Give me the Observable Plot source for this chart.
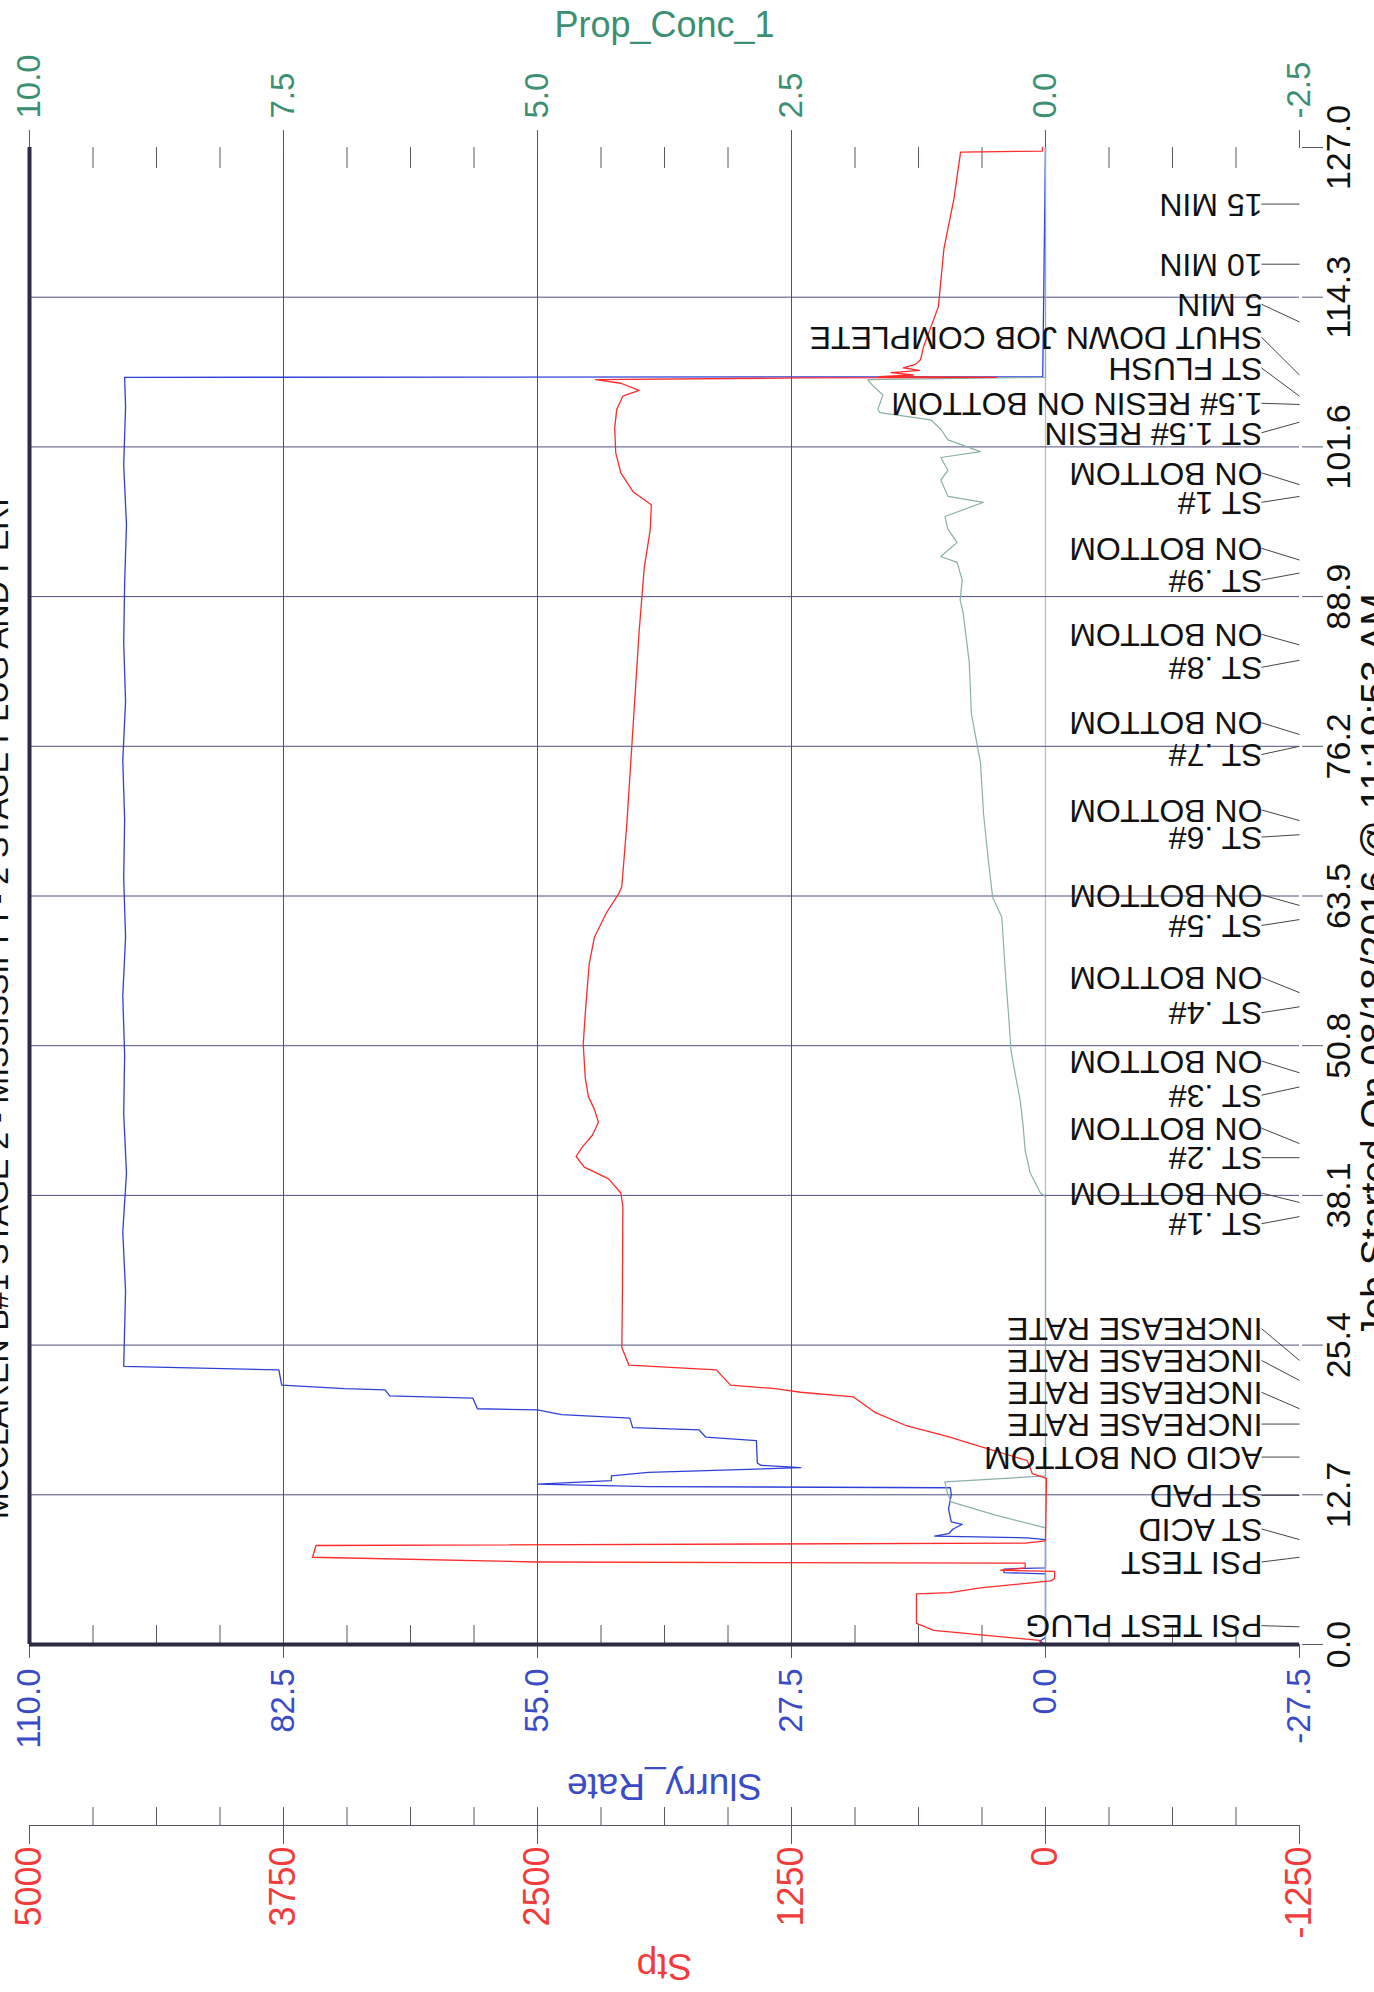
<!DOCTYPE html>
<html><head><meta charset="utf-8">
<script src="https://cdn.jsdelivr.net/npm/d3@7"></script>
<script src="https://cdn.jsdelivr.net/npm/@observablehq/plot@0.6"></script>
<style>
html,body{margin:0;padding:0;background:#fff;overflow:hidden}
#chart svg{display:block}
</style></head><body><div id="chart"></div>
<script>
// ---------- tick labels ----------
const timeTicks = [0.0, 12.7, 25.4, 38.1, 50.8, 63.5, 76.2, 88.9, 101.6, 114.3, 127.0];
const rateTicks = [110.0, 82.5, 55.0, 27.5, 0.0, -27.5];
const stpTicks  = [5000, 3750, 2500, 1250, 0, -1250];
const propTicks = [10.0, 7.5, 5.0, 2.5, 0.0, -2.5];

// ---------- Stp (psi) ----------
const stpTime  = [0.0,0.35,1.2,1.8,4.3,4.4,4.8,5.4,5.6,6.2,6.3,6.5,6.9,7.0,7.4,8.4,8.6,8.8,14.1,14.5,15.6,17.1,17.6,18.6,19.7,21.0,21.4,21.7,22.0,23.3,23.7,25.2,30.0,37.2,38.3,39.5,40.5,41.4,42.2,43.2,44.3,45.4,46.5,48.1,50.9,53.5,55.7,57.8,60.0,62.1,63.7,64.3,69.7,75.1,80.5,85.9,91.3,94.6,96.7,97.8,99.4,101.1,103.2,104.8,105.9,106.4,107.0,107.3,107.45,107.5,107.55,107.7,107.9,108.1,108.3,108.6,109.0,110.1,113.5,118.4,122.7,126.6,126.7,127.0];
const stpValue = [20,30,550,635,635,470,320,-25,-45,-45,220,100,100,2500,3607,3590,100,0,-5,65,90,380,470,690,840,945,1205,1330,1550,1620,2050,2085,2082,2080,2090,2150,2270,2310,2280,2230,2200,2220,2250,2265,2275,2265,2255,2245,2220,2160,2100,2085,2060,2040,2020,2000,1975,1945,1940,2030,2090,2115,2120,2110,2080,2000,2090,2214,1200,240,820,650,760,620,700,640,615,600,527,500,450,418,15,15];

// ---------- Slurry_Rate (bpm) ----------
const rateTime  = [0.0,0.3,0.6,6.0,6.1,6.4,6.5,8.9,9.05,9.2,9.4,9.8,10.2,10.4,11.5,12.7,13.3,13.4,13.6,13.9,14.3,14.6,15.0,15.2,15.4,17.3,17.6,18.2,18.4,19.2,19.5,19.9,20.0,20.9,21.1,21.6,21.7,22.0,23.3,23.6,30,35,40,45,50,55,60,65,70,75,80,85,90,95,100,105,107.5,107.55,127.0];
const rateValue = [0,0.6,0,0,4.5,4.5,0,0,2,12,10.5,10,9,10.2,10.5,10.2,10.3,43,55,47,47,43,26.5,30.8,31.2,31.3,36.8,37.5,44.7,45,52.4,55,61.5,62,71,71.5,75.9,82.7,83,99.8,99.6,99.9,99.5,99.8,99.7,99.9,99.6,99.8,99.7,99.9,99.6,99.8,99.7,99.5,99.8,99.6,99.7,0.3,0];

// ---------- Prop_Conc_1 (ppg) ----------
const propTime  = [0,9.9,11.0,12.1,13.0,13.8,14.3,38.0,38.3,40,41.9,44,46.2,48.5,50.4,53,56.4,59,61.7,63.4,66.3,70.5,74.8,79.0,83.3,87.5,88.6,90.3,91.8,92.3,93.5,94.6,95.7,96.9,97.4,98.8,99.6,100.7,101.2,102.2,103.1,103.9,104.5,104.8,106.0,106.8,107.3,107.5,127];
const propValue = [0,0,0.5,0.93,0.97,0.99,0,0,0.05,0.15,0.2,0.22,0.25,0.3,0.34,0.36,0.39,0.41,0.43,0.52,0.56,0.61,0.64,0.73,0.75,0.81,0.84,0.82,0.87,1.03,0.87,0.96,0.99,0.61,0.96,1.03,0.96,1.03,0.64,0.96,1.03,1.13,1.63,1.65,1.6,1.7,1.75,0,0];

// ---------- event annotations ----------
const eventLabels = ["PSI TEST PLUG","PSI TEST","ST ACID","ST PAD","ACID ON BOTTOM","INCREASE RATE","INCREASE RATE","INCREASE RATE","INCREASE RATE","ST .1#","ON BOTTOM","ST .2#","ON BOTTOM","ST .3#","ON BOTTOM","ST .4#","ON BOTTOM","ST .5#","ON BOTTOM","ST .6#","ON BOTTOM","ST .7#","ON BOTTOM","ST .8#","ON BOTTOM","ST .9#","ON BOTTOM","ST 1#","ON BOTTOM","ST 1.5# RESIN","1.5# RESIN ON BOTTOM","ST FLUSH","SHUT DOWN JOB COMPLETE","5 MIN","10 MIN","15 MIN"];
const eventTimes  = [1.5,7.4,8.9,12.65,15.9,18.7,20.0,22.4,24.1,36.3,37.5,41.3,42.5,47.3,48.5,54.1,55.3,61.5,62.7,68.7,69.9,76.2,77.2,83.5,84.8,90.9,92.0,97.4,98.4,103.7,105.2,105.9,107.7,112.2,117.1,122.2];
const labelTimes  = [1.6,7.0,9.8,12.65,15.9,18.7,21.4,24.1,26.8,35.7,38.3,41.3,43.8,46.6,49.5,53.6,56.6,61.0,63.6,68.5,70.8,75.5,78.2,82.9,85.7,90.3,93.0,96.9,99.4,102.8,105.3,108.3,110.9,113.7,117.1,122.2];

const titleText = "MCCLAREN B#1 STAGE 2 - MISSISSIPPI - 2 STAGE PLUG AND PERF";
const jobText = "Job Started On 08/18/2016 @ 11:19:53 AM";

// ---------- build ----------
const STP_TO_RATE = 137.5 / 6250;   // Stp axis spans the same length as Slurry_Rate axis
const PROP_TO_RATE = 11;            // Prop axis 12.5 units over 137.5
const stpData  = stpTime.map((t, i) => ({t, v: stpValue[i] * STP_TO_RATE}));
const rateData = rateTime.map((t, i) => ({t, v: rateValue[i]}));
const propData = propTime.map((t, i) => ({t, v: propValue[i] * PROP_TO_RATE}));
const events = eventLabels.map((label, i) => ({label, t: eventTimes[i], lt: labelTimes[i]}));

const W = 1374, H = 1992, mL = 29, mR = 75, mT = 147, mB = 348;
const pxPerRate = (W - mL - mR) / 137.5;
const leaderGap = 38; // px between frame edge and label
const leaderX = -27.5 + leaderGap / pxPerRate;

const font = "'Liberation Sans', Arial, Helvetica, sans-serif";
const C = {
  frame: "#2b2b45", grid: "#4f4f80", zero: "#a8c2c6", axis: "#555566",
  red: "#ff2a2a", blue: "#2f40d8", teal: "#8bb0a8",
  propLab: "#3b8f72", rateLab: "#3a4bc8", stpLab: "#f23b3b"
};
const stick = {draw(ctx, l) { ctx.moveTo(0, 0); ctx.lineTo(0, -l); }};

const majorRate = rateTicks;
const step = (rateTicks[0] - rateTicks[1]) / 4;
const minorRate = d3.range(0, 21).map(k => rateTicks[0] - k * step).filter((d, k) => k % 4 !== 0);
const innerRate = rateTicks.slice(1, -1);
const STP_OFF = 181;
const tTop = timeTicks[timeTicks.length - 1];
const xRight = rateTicks[rateTicks.length - 1];

const chart = Plot.plot({
  width: W, height: H,
  marginLeft: mL, marginRight: mR, marginTop: mT, marginBottom: mB,
  style: {fontFamily: font, background: "#fff", overflow: "visible"},
  x: {domain: [rateTicks[0], xRight], axis: null},
  y: {domain: [timeTicks[0], tTop], axis: null},
  marks: [
    // grid
    Plot.ruleX(innerRate.filter(d => d !== 0), {stroke: C.grid, strokeWidth: 1}),
    Plot.ruleX([0], {stroke: C.zero, strokeWidth: 1.2}),
    Plot.ruleY(timeTicks.slice(1, -1), {stroke: C.grid, strokeWidth: 1}),
    // time axis outward ticks (right)
    Plot.vector(timeTicks, {x: xRight, y: d => d, length: 20, rotate: 90, anchor: "start", dx: 3, shape: stick, stroke: C.axis, strokeWidth: 1}),
    // prop axis (top): major ticks up, minor ticks down
    Plot.vector(majorRate, {x: d => d, y: tTop, length: 17, rotate: 0, anchor: "start", shape: stick, stroke: C.axis, strokeWidth: 1}),
    Plot.vector(minorRate, {x: d => d, y: tTop, length: 20, rotate: 180, anchor: "start", shape: stick, stroke: C.axis, strokeWidth: 1}),
    // slurry axis (bottom): minor ticks inward, major outward
    Plot.vector(minorRate, {x: d => d, y: 0, length: 19, rotate: 0, anchor: "start", shape: stick, stroke: C.axis, strokeWidth: 1}),
    Plot.vector(majorRate, {x: d => d, y: 0, length: 13, rotate: 180, anchor: "start", shape: stick, stroke: C.axis, strokeWidth: 1}),
    // stp axis (offset below)
    Plot.ruleY([0], {dy: STP_OFF, stroke: C.axis, strokeWidth: 1.2}),
    Plot.vector(minorRate.concat(innerRate), {x: d => d, y: 0, dy: STP_OFF, length: 18, rotate: 0, anchor: "start", shape: stick, stroke: C.axis, strokeWidth: 1}),
    Plot.vector(majorRate, {x: d => d, y: 0, dy: STP_OFF, length: 18, rotate: 180, anchor: "start", shape: stick, stroke: C.axis, strokeWidth: 1}),
    // series
    Plot.line(rateData, {x: "v", y: "t", stroke: C.blue, strokeWidth: 1.3}),
    Plot.line(propData, {x: "v", y: "t", stroke: C.teal, strokeWidth: 1.2}),
    Plot.line(stpData, {x: "v", y: "t", stroke: C.red, strokeWidth: 1.3}),
    // thick frame
    Plot.ruleX([rateTicks[0]], {stroke: C.frame, strokeWidth: 4}),
    Plot.ruleY([0], {stroke: C.frame, strokeWidth: 4}),
    // event leaders & labels
    Plot.link(events, {x1: xRight, y1: "t", x2: leaderX, y2: "lt", stroke: "#444", strokeWidth: 1}),
    Plot.text(events, {x: leaderX, y: "lt", text: "label", rotate: 180, textAnchor: "start", lineAnchor: "middle", dx: 1, fontSize: 32, fill: "#111"}),
    // tick labels
    Plot.text(timeTicks, {x: xRight, y: d => d, text: d => d.toFixed(1), rotate: -90, textAnchor: "middle", lineAnchor: "top", dx: 26, fontSize: 34, fill: "#111"}),
    Plot.text(propTicks, {x: d => d * PROP_TO_RATE, y: tTop, text: d => d.toFixed(1), rotate: -90, textAnchor: "start", lineAnchor: "middle", dy: -29, fontSize: 33, fill: C.propLab}),
    Plot.text(rateTicks, {x: d => d, y: 0, text: d => d.toFixed(1), rotate: -90, textAnchor: "end", lineAnchor: "middle", dy: 24, fontSize: 33, fill: C.rateLab}),
    Plot.text(stpTicks, {x: d => d * STP_TO_RATE, y: 0, text: d => String(d), rotate: -90, textAnchor: "end", lineAnchor: "middle", dy: STP_OFF + 21, fontSize: 36, fill: C.stpLab}),
    // axis titles
    Plot.text(["Prop_Conc_1"], {frameAnchor: "top", dy: -122, text: d => d, textAnchor: "middle", lineAnchor: "middle", fontSize: 36, fill: C.propLab}),
    Plot.text(["Slurry_Rate"], {frameAnchor: "bottom", dy: 141, text: d => d, rotate: 180, textAnchor: "middle", lineAnchor: "middle", fontSize: 37, fill: C.rateLab}),
    Plot.text(["Stp"], {frameAnchor: "bottom", dy: 321, text: d => d, rotate: 180, textAnchor: "middle", lineAnchor: "middle", fontSize: 37, fill: C.stpLab}),
    // page title (cut at the left edge) and job start (cut at the right edge), as in the source
    Plot.text([titleText], {frameAnchor: "left", dx: -22, dy: 107, text: d => d, rotate: -90, textAnchor: "middle", lineAnchor: "bottom", fontSize: 32, fill: "#111"}),
    Plot.text([jobText], {frameAnchor: "right", dx: 61, dy: 70, text: d => d, rotate: -90, textAnchor: "middle", lineAnchor: "top", fontSize: 39, fill: "#111"})
  ]
});
document.getElementById("chart").appendChild(chart);
</script>
</body></html>
